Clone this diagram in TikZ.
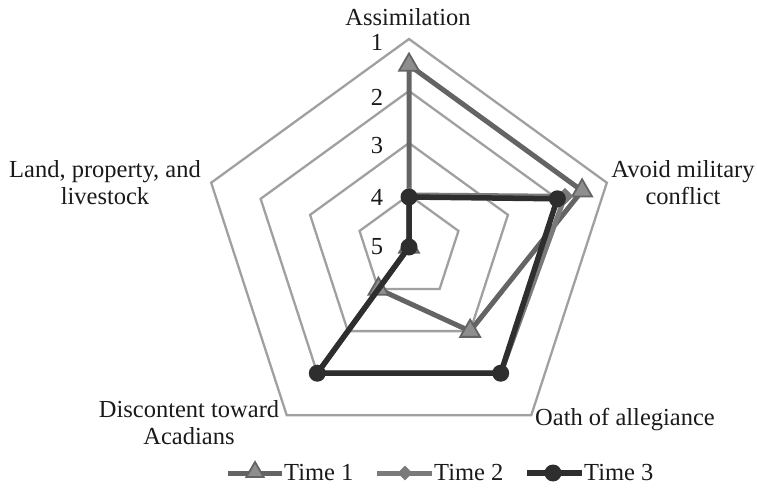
\documentclass[tikz,border=0pt]{standalone}
\usepackage{fontspec}
\setmainfont{Liberation Serif}
\usetikzlibrary{shapes.geometric}
\definecolor{gridc}{HTML}{A0A0A0}
\definecolor{ta}{HTML}{646464}
\definecolor{tafill}{HTML}{8E8E8E}
\definecolor{tb}{HTML}{7A7A7A}
\definecolor{tc}{HTML}{2E2E2E}
\definecolor{txt}{HTML}{1A1A1A}
\begin{document}
\begin{tikzpicture}[x=1pt,y=1pt,
  gridline/.style={draw=gridc,line width=2.3pt,line join=miter},
  lbl/.style={font=\fontsize{24.5}{27}\selectfont,text=txt,inner sep=0pt,align=center},
  ser1/.style={draw=ta,line width=5pt,line join=round},
  ser2/.style={draw=tb,line width=5pt,line join=round},
  ser3/.style={draw=tc,line width=5.5pt,line join=round},
  mk1/.style={regular polygon,regular polygon sides=3,minimum size=23pt,inner sep=0pt,fill=tafill,draw=ta,line width=1.8pt},
  mk2/.style={diamond,minimum width=17pt,minimum height=17pt,inner sep=0pt,fill=tb},
  mk3/.style={circle,minimum size=17pt,inner sep=0pt,fill=tc},
]
\useasboundingbox (0,0) rectangle (757,487);
\coordinate (C) at (409,240);
\begin{scope}[shift={(C)}]
  % grid rings
  \foreach \r in {208,156,104,52}
    \draw[gridline] (90:\r) -- (18:\r) -- (-54:\r) -- (-126:\r) -- (162:\r) -- cycle;
  % scale labels
  \node[lbl] (s1) at (-32,205) {1};
  \node[lbl] (s2) at (-32,150) {2};
  \node[lbl] (s3) at (-32,101) {3};
  \node[lbl] (s4) at (-32,50) {4};
  \node[lbl] (s5) at (-32,0) {5};
  % Time 1
  \coordinate (t1a) at (90:182);
  \coordinate (t1b) at (18:182);
  \coordinate (t1c) at (-54:104);
  \coordinate (t1d) at (-126:52);
  \coordinate (t1e) at (0,0);
  % Time 2
  \coordinate (t2a) at (90:52);
  \coordinate (t2b) at (18:164);
  \coordinate (t2c) at (-54:156);
  \coordinate (t2d) at (-126:156);
  \coordinate (t2e) at (0,0);
  % Time 3
  \coordinate (t3a) at (90:50);
  \coordinate (t3b) at (18:156);
  \coordinate (t3c) at (-54:156);
  \coordinate (t3d) at (-126:156);
  \coordinate (t3e) at (0,0);
\end{scope}
% series 1
\draw[ser1] (t1a) -- (t1b) -- (t1c) -- (t1d) -- (t1e) -- cycle;
\foreach \p in {a,b,c,d,e} \node[mk1] (m1\p) at (t1\p) {};
% series 2
\draw[ser2] (t2a) -- (t2b) -- (t2c) -- (t2d) -- (t2e) -- cycle;
\foreach \p in {a,b,c,d,e} \node[mk2] (m2\p) at (t2\p) {};
% series 3
\draw[ser3] (t3a) -- (t3b) -- (t3c) -- (t3d) -- (t3e) -- cycle;
\foreach \p in {a,b,c,d,e} \node[mk3] (m3\p) at (t3\p) {};
% axis labels
\node[lbl] (la) at (408,470) {Assimilation};
\node[lbl] (lb) at (683,304) {Avoid military\\conflict};
\node[lbl] (lc) at (625,67) {Oath of allegiance};
\node[lbl] (ld) at (189,64) {Discontent toward\\Acadians};
\node[lbl] (le) at (105,304) {Land, property, and\\livestock};
% legend
\coordinate (l1s) at (228,14); \coordinate (l1e) at (282,14);
\draw[ser1] (l1s) -- (l1e);
\node[mk1,minimum size=20pt] (l1m) at (255,15) {};
\node[lbl,anchor=west] (l1t) at (284,14) {Time 1};
\coordinate (l2s) at (377,14); \coordinate (l2e) at (432,14);
\draw[ser2] (l2s) -- (l2e);
\node[mk2,minimum width=15pt,minimum height=15pt] (l2m) at (405,14) {};
\node[lbl,anchor=west] (l2t) at (434,14) {Time 2};
\coordinate (l3s) at (527,14); \coordinate (l3e) at (582,14);
\draw[ser3] (l3s) -- (l3e);
\node[mk3,minimum size=17pt] (l3m) at (553,14) {};
\node[lbl,anchor=west] (l3t) at (584,14) {Time 3};
\end{tikzpicture}
\end{document}
